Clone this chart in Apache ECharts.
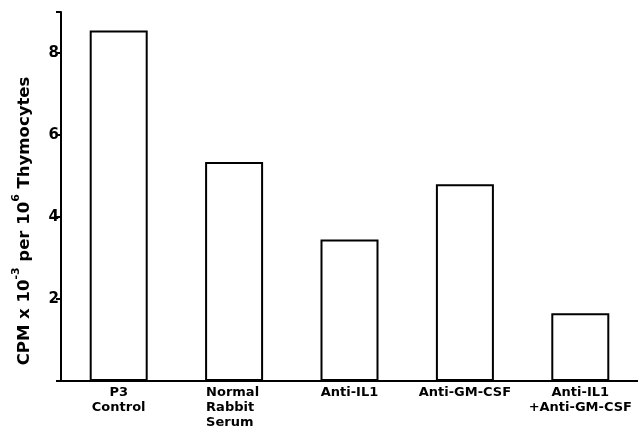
<!DOCTYPE html>
<html><head><meta charset="utf-8">
<script src="https://cdn.jsdelivr.net/npm/echarts@6/dist/echarts.min.js"></script>
<style>html,body{margin:0;padding:0;background:#fff}#c{width:638px;height:431px}</style>
</head><body><div id="c"></div>
<script>
var categories = ['P3\nControl', 'Normal\nRabbit\nSerum', 'Anti-IL1', 'Anti-GM-CSF', 'Anti-IL1\n+Anti-GM-CSF'];
var values = [8.55, 5.34, 3.45, 4.80, 1.65];
var yTickLabels = [2, 4, 6, 8];

var chart = echarts.init(document.getElementById('c'), null, {renderer: 'canvas'});
var FONT = 'DejaVu Sans';
chart.setOption({
  animation: false,
  backgroundColor: '#fff',
  grid: {left: 61, right: -6, top: 12, bottom: 50, containLabel: false},
  xAxis: {
    type: 'category',
    data: categories,
    axisLine: {lineStyle: {color: '#000', width: 2}},
    axisTick: {show: false},
    axisLabel: {
      interval: 0, hideOverlap: false,
      color: '#000', fontFamily: FONT, fontWeight: 'bold', fontSize: 13, lineHeight: 15, margin: 4,
      formatter: function (v) {
        if (v.indexOf('Normal') === 0) {
          return v.split('\n').map(function (s) { return '{l|' + s + '}'; }).join('\n');
        }
        return v;
      },
      rich: {l: {width: 56, align: 'left', fontFamily: FONT, fontWeight: 'bold', fontSize: 13, lineHeight: 15, color: '#000'}}
    }
  },
  yAxis: {
    type: 'value', min: 0, max: 9, interval: 2,
    axisLine: {show: true, lineStyle: {color: '#000', width: 2}},
    axisTick: {show: true, length: 5, lineStyle: {color: '#000', width: 2}},
    splitLine: {show: false},
    axisLabel: {
      color: '#000', fontFamily: FONT, fontWeight: 'bold', fontSize: 15, margin: 2,
      formatter: function (v) { return yTickLabels.indexOf(v) >= 0 ? String(v) : ''; }
    }
  },
  graphic: [{
    type: 'text',
    x: 22, y: 221,
    rotation: Math.PI / 2,
    style: {
      text: '{a|CPM x 10}{s|-3}{a| per 10}{s|6}{a| Thymocytes}',
      align: 'center', verticalAlign: 'middle',
      fill: '#000',
      rich: {
        a: {fontFamily: FONT, fontWeight: 'bold', fontSize: 16.5, lineHeight: 22, verticalAlign: 'bottom', fill: '#000'},
        s: {fontFamily: FONT, fontWeight: 'bold', fontSize: 11, lineHeight: 22, verticalAlign: 'top', fill: '#000'}
      }
    }
  }],
  series: [{
    type: 'bar',
    data: values,
    barWidth: 58,
    itemStyle: {color: '#fff', borderColor: '#000', borderWidth: 2}
  }]
});
</script></body></html>
